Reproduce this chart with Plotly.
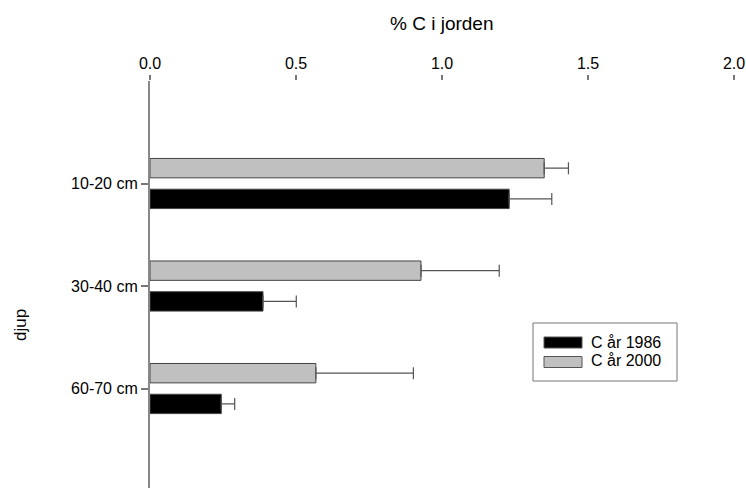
import plotly.graph_objects as go

depths = ["10-20 cm", "30-40 cm", "60-70 cm"]
c1986 = [1.23, 0.387, 0.244]
c1986_err = [0.146, 0.114, 0.046]
c2000 = [1.35, 0.928, 0.568]
c2000_err = [0.083, 0.268, 0.334]
series_names = ["C år 1986", "C år 2000"]
series_colors = ["#000000", "#c0c0c0"]

W, H = 746, 488
PX0, PX1, PY0, PY1 = 150, 734, 81, 488


def px(x):
    return (x - PX0) / (PX1 - PX0)


def py(y):
    return (PY1 - y) / (PY1 - PY0)


fig = go.Figure()
for name, vals, errs, col in [(series_names[0], c1986, c1986_err, series_colors[0]),
                              (series_names[1], c2000, c2000_err, series_colors[1])]:
    fig.add_trace(go.Bar(
        name=name, y=depths, x=vals, orientation="h", showlegend=False,
        marker=dict(color=col, line=dict(color="#444444", width=1)),
        error_x=dict(type="data", array=errs, symmetric=False, arrayminus=[0, 0, 0],
                     color="#555555", thickness=1.2, width=6),
    ))

shapes = [
    dict(type="rect", xref="paper", yref="paper",
         x0=px(533), x1=px(677), y0=py(381), y1=py(323),
         line=dict(color="#777777", width=1), fillcolor="white", layer="above"),
]
annotations = [
    dict(text="% C i jorden", xref="paper", yref="paper", x=0.5, y=py(23),
         xanchor="center", yanchor="middle", showarrow=False, font=dict(size=19)),
    dict(text="djup", xref="paper", yref="paper", x=px(20), y=py(325),
         xanchor="center", yanchor="middle", textangle=-90, showarrow=False,
         font=dict(size=17)),
]
row_y = [342.5, 362]
text_y = [342, 360]
for i, (name, col) in enumerate(zip(series_names, series_colors)):
    shapes.append(dict(type="rect", xref="paper", yref="paper",
                       x0=px(544), x1=px(582), y0=py(row_y[i] + 5.5), y1=py(row_y[i] - 5.5),
                       line=dict(color="#555555", width=1), fillcolor=col, layer="above"))
    annotations.append(dict(text=name, xref="paper", yref="paper", x=px(589), y=py(text_y[i]),
                            xanchor="left", yanchor="middle", showarrow=False,
                            font=dict(size=16)))

fig.update_layout(
    width=W, height=H,
    margin=dict(l=PX0, r=W - PX1, t=PY0, b=H - PY1),
    paper_bgcolor="white", plot_bgcolor="white",
    barmode="group", bargap=0.4, bargroupgap=0.37,
    font=dict(family="Liberation Sans, Arial, sans-serif", size=16, color="#000000"),
    showlegend=False,
    xaxis=dict(side="top", range=[0, 2.0], tickvals=[0, 0.5, 1.0, 1.5, 2.0],
               ticktext=["0.0", "0.5", "1.0", "1.5", "2.0"],
               showgrid=False, zeroline=False, showline=False,
               ticks="outside", ticklen=5, tickcolor="#777777", tickwidth=1.5,
               tickfont=dict(size=16)),
    yaxis=dict(categoryorder="array", categoryarray=depths[::-1],
               range=[-0.97, 3], showgrid=False, zeroline=False,
               showline=True, linecolor="#888888", linewidth=2,
               ticks="outside", ticklen=7, tickcolor="#777777", tickwidth=1.5,
               tickfont=dict(size=16)),
    shapes=shapes,
    annotations=annotations,
)

fig.write_html("out.html",
               config={"displayModeBar": False},
               post_script="document.body.style.margin='0';document.body.style.overflow='hidden';")
